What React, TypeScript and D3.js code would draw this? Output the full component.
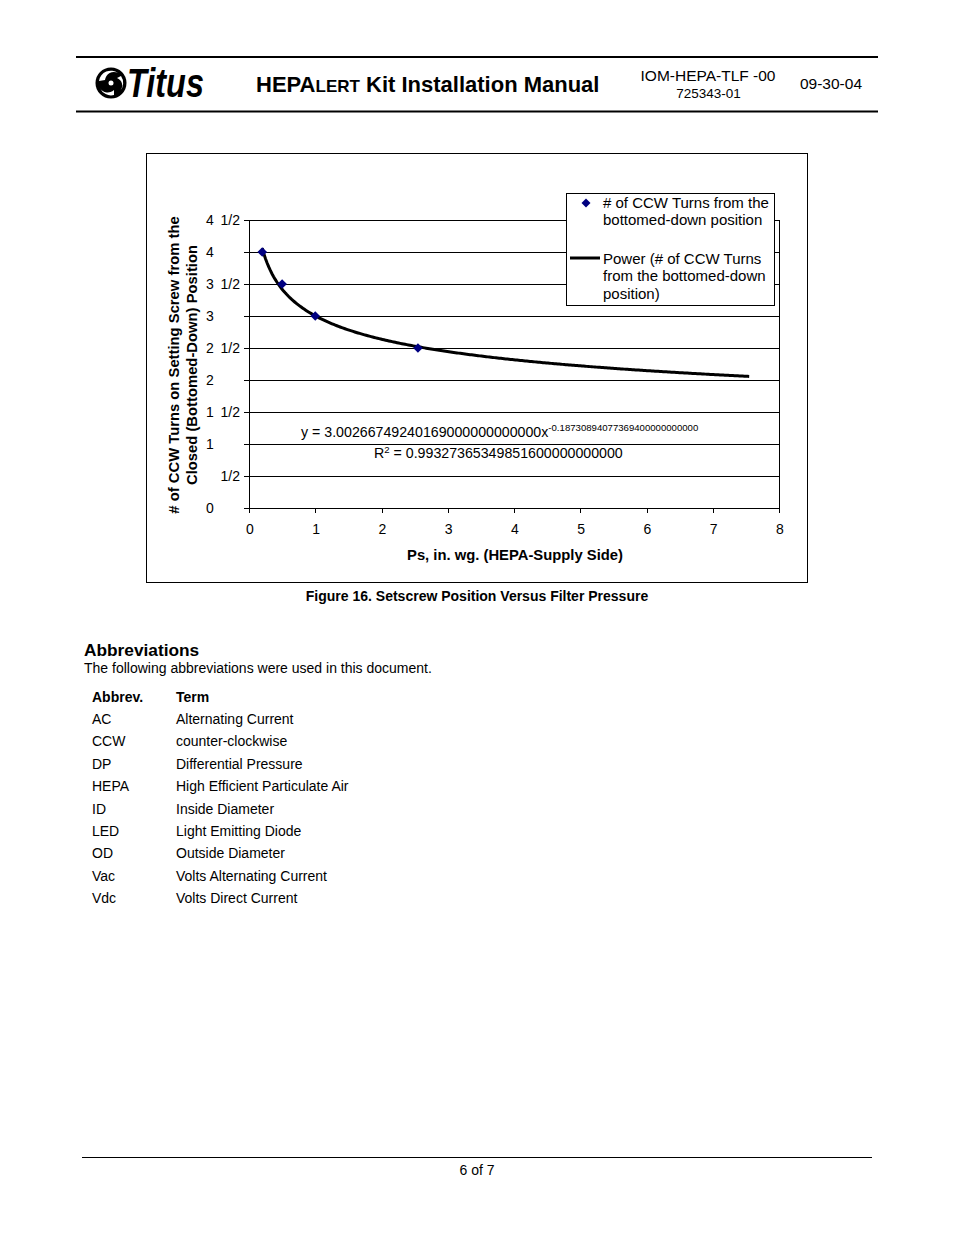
import React from "react";
import * as d3 from "d3";

const pointX = [0.2, 0.5, 1.0, 2.55];
const pointY = [4.0, 3.5, 3.0, 2.5];
const fitCoefA = 3.00266749240169;
const fitCoefB = -0.187308940773694;
const fitRange = [0.2, 7.55];
const xTicks = [0, 1, 2, 3, 4, 5, 6, 7, 8];
const yTicks = [0, 0.5, 1, 1.5, 2, 2.5, 3, 3.5, 4, 4.5];
const yTickLabels = ["0", "1/2", "1", "1 1/2", "2", "2 1/2", "3", "3 1/2", "4", "4 1/2"];
const eqCoef = "3.00266749240169000000000000";
const eqExp = "-0.18730894077369400000000000";
const eqR2 = "0.99327365349851600000000000";
const abbrevs = ["AC", "CCW", "DP", "HEPA", "ID", "LED", "OD", "Vac", "Vdc"];
const terms = [
  "Alternating Current",
  "counter-clockwise",
  "Differential Pressure",
  "High Efficient Particulate Air",
  "Inside Diameter",
  "Light Emitting Diode",
  "Outside Diameter",
  "Volts Alternating Current",
  "Volts Direct Current",
];

const FONT = "'Liberation Sans', Arial, sans-serif";

function diamondPath(r: number) {
  return `M0,${-r}L${r},0L0,${r}L${-r},0Z`;
}

export default function App() {
  const x = d3.scaleLinear().domain([0, 8]).range([249, 779]);
  const y = d3.scaleLinear().domain([0, 4.5]).range([508, 220]);

  // trendline drawn from the chart's own displayed power-fit equation
  const fitXs = d3.range(0, 301).map((i) => fitRange[0] + ((fitRange[1] - fitRange[0]) * i) / 300);
  const line = d3
    .line<number>()
    .x((v) => x(v))
    .y((v) => y(fitCoefA * Math.pow(v, fitCoefB)));
  const fitPath = line(fitXs) || "";

  const py = (t: number) => Math.round(y(t)) + 0.5;
  const px = (t: number) => Math.round(x(t)) + 0.5;

  return (
    <svg
      width={954}
      height={1235}
      style={{ position: "absolute", left: 0, top: 0, background: "#fff" }}
      fontFamily={FONT}
    >
      <rect x={0} y={0} width={954} height={1235} fill="#fff" />
      {/* Header */}
      <line x1={76} x2={878} y1={57} y2={57} stroke="#000" strokeWidth={2} />
      <line x1={76} x2={878} y1={111.5} y2={111.5} stroke="#000" strokeWidth={2} />
      {/* Logo */}
      <g transform="translate(111,83)">
        <circle r={15.5} fill="#000" />
        <path d="M-12,-2 A12,12 0 0 1 7,-10 A9,9 0 0 0 -6,-3 Z" fill="#fff" />
        <path d="M3,12 A12,12 0 0 1 -11,5 A9,9 0 0 0 3,7 Z" fill="#fff" />
        <path d="M10,-7 A12,12 0 0 1 9,8 A8,8 0 0 0 6,-5 Z" fill="#fff" />
        <circle r={2.5} fill="#fff" />
      </g>
      <text
        x={127}
        y={97}
        fontFamily="'Liberation Sans Narrow', 'Liberation Sans', Arial, sans-serif"
        fontWeight="bold"
        fontStyle="italic"
        fontSize={40}
        textLength={77}
        lengthAdjust="spacingAndGlyphs"
      >
        Titus
      </text>
      <text x={256} y={92} fontSize={22} fontWeight="bold">
        HEPA<tspan fontSize={17}>LERT</tspan> Kit Installation Manual
      </text>
      <text x={708} y={81} fontSize={15.5} textAnchor="middle">IOM-HEPA-TLF -00</text>
      <text x={708.5} y={98} fontSize={13.5} textAnchor="middle">725343-01</text>
      <text x={831} y={89} fontSize={15.5} textAnchor="middle">09-30-04</text>

      {/* Chart frame */}
      <rect x={146.5} y={153.5} width={661} height={429} fill="#fff" stroke="#000" strokeWidth={1} />

      {/* Gridlines */}
      {yTicks.slice(1).map((t) => (
        <line key={"g" + t} x1={x(0)} x2={x(8)} y1={py(t)} y2={py(t)} stroke="#000" strokeWidth={1} />
      ))}
      <line x1={x(8) + 0.5} x2={x(8) + 0.5} y1={y(4.5)} y2={y(0)} stroke="#000" strokeWidth={1} />
      {/* axes */}
      <line x1={x(0) + 0.5} x2={x(0) + 0.5} y1={y(4.5)} y2={y(0)} stroke="#000" strokeWidth={1} />
      <line x1={x(0)} x2={x(8)} y1={py(0)} y2={py(0)} stroke="#000" strokeWidth={1} />
      {yTicks.map((t) => (
        <line key={"yt" + t} x1={x(0) - 5} x2={x(0)} y1={py(t)} y2={py(t)} stroke="#000" strokeWidth={1} />
      ))}
      {xTicks.map((t) => (
        <line key={"xt" + t} x1={px(t)} x2={px(t)} y1={y(0)} y2={y(0) + 5} stroke="#000" strokeWidth={1} />
      ))}
      {/* y tick labels */}
      {yTicks.map((t, i) => {
        const lbl = yTickLabels[i];
        const parts = lbl.split(" ");
        const whole = parts.length === 2 ? parts[0] : lbl.includes("/") ? "" : lbl;
        const frac = parts.length === 2 ? parts[1] : lbl.includes("/") ? lbl : "";
        return (
          <g key={"yl" + t} fontSize={14}>
            {whole && <text x={206} y={y(t) + 5}>{whole}</text>}
            {frac && (
              <text x={240} y={y(t) + 5} textAnchor="end">{frac}</text>
            )}
          </g>
        );
      })}
      {/* x tick labels */}
      {xTicks.map((t) => (
        <text key={"xl" + t} x={x(t) + 1} y={534} fontSize={14} textAnchor="middle">{t}</text>
      ))}
      {/* axis titles */}
      <text x={515} y={560} fontSize={14.8} fontWeight="bold" textAnchor="middle">Ps, in. wg. (HEPA-Supply Side)</text>
      <g transform="translate(179,365) rotate(-90)">
        <text x={0} y={0} fontSize={14.8} fontWeight="bold" textAnchor="middle"># of CCW Turns on Setting Screw from the</text>
        <text x={0} y={18} fontSize={14.8} fontWeight="bold" textAnchor="middle">Closed (Bottomed-Down) Position</text>
      </g>

      {/* trendline */}
      <path d={fitPath} fill="none" stroke="#000" strokeWidth={3} />
      {/* points */}
      {pointX.map((pv, i) => (
        <path key={"p" + i} d={diamondPath(4.8)} transform={`translate(${x(pv)},${y(pointY[i])})`} fill="#000080" />
      ))}

      {/* equation */}
      <text x={301} y={437} fontSize={14.2}>
        y = {eqCoef}x
        <tspan fontSize={9.6} dy={-6}>{eqExp}</tspan>
      </text>
      <text x={374} y={458} fontSize={14.2}>
        R<tspan fontSize={9.6} dy={-5}>2</tspan>
        <tspan dy={5}> = {eqR2}</tspan>
      </text>

      {/* legend */}
      <rect x={566.5} y={193.5} width={208} height={112} fill="#fff" stroke="#000" strokeWidth={1} />
      <path d={diamondPath(4.5)} transform="translate(586,203)" fill="#000080" />
      <g fontSize={15}>
        <text x={603} y={208}># of CCW Turns from the</text>
        <text x={603} y={225}>bottomed-down position</text>
        <text x={603} y={264}>Power (# of CCW Turns</text>
        <text x={603} y={281}>from the bottomed-down</text>
        <text x={603} y={299}>position)</text>
      </g>
      <line x1={570} x2={600} y1={258} y2={258} stroke="#000" strokeWidth={3} />

      {/* caption */}
      <text x={477} y={601} fontSize={14} fontWeight="bold" textAnchor="middle">Figure 16. Setscrew Position Versus Filter Pressure</text>

      {/* Abbreviations */}
      <text x={84} y={656} fontSize={17.3} fontWeight="bold">Abbreviations</text>
      <text x={84} y={673} fontSize={14}>The following abbreviations were used in this document.</text>
      <text x={92} y={702} fontSize={14} fontWeight="bold">Abbrev.</text>
      <text x={176} y={702} fontSize={14} fontWeight="bold">Term</text>
      {abbrevs.map((a, i) => (
        <g key={a} fontSize={14}>
          <text x={92} y={724 + i * 22.4}>{a}</text>
          <text x={176} y={724 + i * 22.4}>{terms[i]}</text>
        </g>
      ))}

      {/* Footer */}
      <line x1={82} x2={872} y1={1157.5} y2={1157.5} stroke="#000" strokeWidth={1} />
      <text x={477} y={1175} fontSize={14} textAnchor="middle">6 of 7</text>
    </svg>
  );
}
